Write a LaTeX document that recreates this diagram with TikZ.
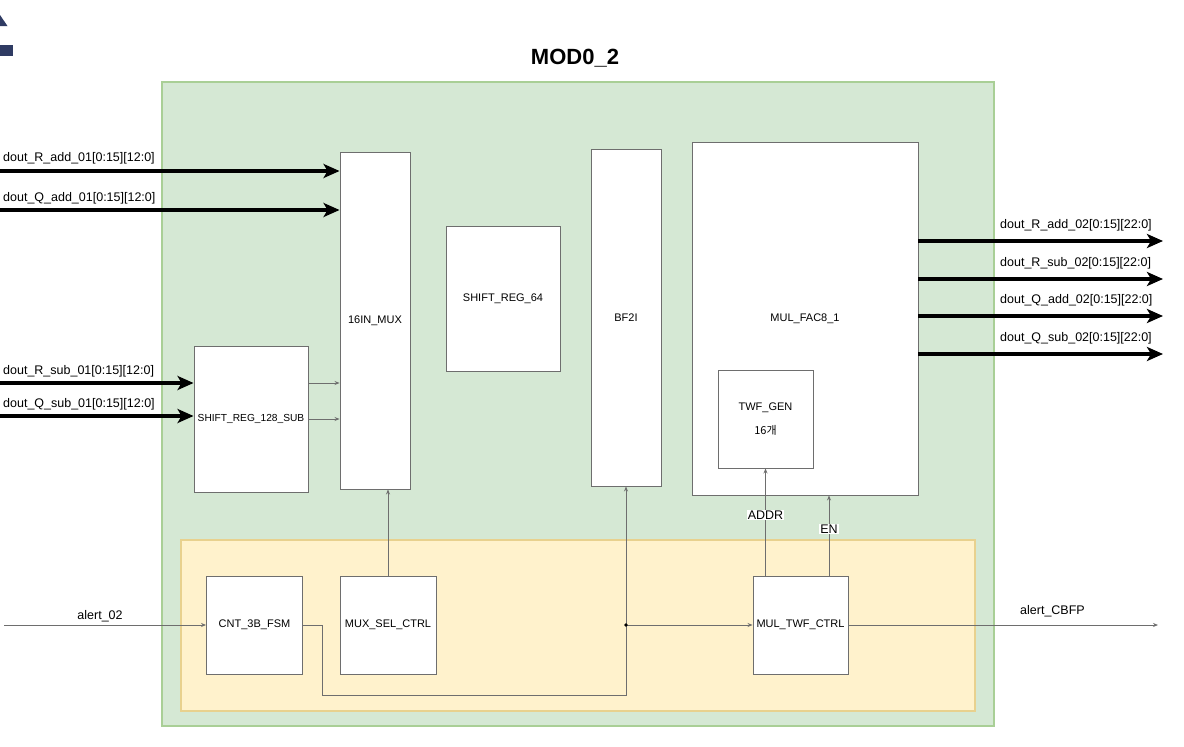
\documentclass[tikz,border=0pt]{standalone}
\usepackage{fontspec}
\setmainfont{Liberation Sans}
\newfontfamily\cjk{Noto Sans CJK KR}
\usetikzlibrary{arrows.meta}
\usetikzlibrary{calc,positioning}
\definecolor{verde}{HTML}{D5E8D4}
\definecolor{verdeborda}{HTML}{A9CF96}
\definecolor{amarelo}{HTML}{FFF2CC}
\definecolor{amareloborda}{HTML}{E8D18E}
\definecolor{cinza}{HTML}{6E6E6E}
\definecolor{marinho}{HTML}{2F3B63}

\begin{document}
\begin{tikzpicture}[>=Stealth, x=1pt, y=-1pt,
    bloco/.style={draw=cinza, fill=white, line width=0.9pt, inner sep=0pt, font=\fontsize{11}{13}\selectfont},
    barra/.style={line width=4pt, -{Stealth[length=16pt,width=14pt,inset=4pt]}},
    fio/.style={draw=cinza, line width=0.8pt, -{Stealth[length=5pt,width=4pt]}},
    rotulo/.style={font=\fontsize{12.5}{14}\selectfont, inner sep=0pt}]
    \useasboundingbox (0,0) rectangle (1184,747);

    % pedaco do icone no canto
    \fill[marinho] (0,15) -- (7.5,26) -- (0,26) -- cycle;
    \fill[marinho] (0,45) rectangle (12.5,56);

    % caixas de fundo
    \draw[verdeborda, fill=verde, line width=1.2pt] (162,82) rectangle (994,726);
    \draw[amareloborda, fill=amarelo, line width=1.2pt] (181,540) rectangle (975,711);
    \node[font=\bfseries\fontsize{22}{25}\selectfont] (titulo) at (575,58) {MOD0\_2};

    % blocos
    \node[bloco, minimum width=70pt, minimum height=337pt] (mux) at (375,320.5) {16IN\_MUX};
    \node[bloco, minimum width=114pt, minimum height=145pt] (sr64) at (503,298.5) {SHIFT\_REG\_64};
    \node[bloco, minimum width=70pt, minimum height=337pt] (bf) at (626,317.5) {BF2I};
    \node[bloco, minimum width=226pt, minimum height=353pt] (fac) at (805,318.5) {MUL\_FAC8\_1};
    \node[bloco, minimum width=95pt, minimum height=98pt, align=center] (twf) at (765.5,419) {TWF\_GEN\\[11pt]{\cjk 16개}};
    \node[bloco, minimum width=114pt, minimum height=146pt, font=\fontsize{10.2}{12}\selectfont] (sr128) at (251,419) {SHIFT\_REG\_128\_SUB};
    \node[bloco, minimum width=96pt, minimum height=98pt] (cnt) at (254.5,625) {CNT\_3B\_FSM};
    \node[bloco, minimum width=96pt, minimum height=98pt] (msel) at (388,625) {MUX\_SEL\_CTRL};
    \node[bloco, minimum width=95pt, minimum height=98pt] (mtc) at (800.5,625) {MUL\_TWF\_CTRL};

    % entradas
    \coordinate (in1) at (0,171);
    \coordinate (in2) at (0,210);
    \coordinate (in3) at (0,383);
    \coordinate (in4) at (0,416);
    \draw[barra] (in1) -- (in1 -| mux.west);
    \draw[barra] (in2) -- (in2 -| mux.west);
    \draw[barra] (in3) -- (in3 -| sr128.west);
    \draw[barra] (in4) -- (in4 -| sr128.west);
    \node[rotulo, anchor=west] (lin1) at (3,158) {dout\_R\_add\_01[0:15][12:0]};
    \node[rotulo, anchor=west] (lin2) at (3,198) {dout\_Q\_add\_01[0:15][12:0]};
    \node[rotulo, anchor=west] (lin3) at (3,371) {dout\_R\_sub\_01[0:15][12:0]};
    \node[rotulo, anchor=west] (lin4) at (3,404) {dout\_Q\_sub\_01[0:15][12:0]};

    % saidas
    \coordinate (out1) at (1163,241);
    \coordinate (out2) at (1163,279);
    \coordinate (out3) at (1163,316);
    \coordinate (out4) at (1163,354);
    \draw[barra] (out1 -| fac.east) -- (out1);
    \draw[barra] (out2 -| fac.east) -- (out2);
    \draw[barra] (out3 -| fac.east) -- (out3);
    \draw[barra] (out4 -| fac.east) -- (out4);
    \node[rotulo, anchor=west] (lout1) at (1000,225) {dout\_R\_add\_02[0:15][22:0]};
    \node[rotulo, anchor=west] (lout2) at (1000,263) {dout\_R\_sub\_02[0:15][22:0]};
    \node[rotulo, anchor=west] (lout3) at (1000,300) {dout\_Q\_add\_02[0:15][22:0]};
    \node[rotulo, anchor=west] (lout4) at (1000,338) {dout\_Q\_sub\_02[0:15][22:0]};

    % ligacoes internas
    \draw[fio] ([yshift=36pt]sr128.east) -- ([yshift=36pt]sr128.east -| mux.west);
    \draw[fio] (sr128.east) -- (sr128.east -| mux.west);
    \draw[fio] (msel.north) -- (msel.north |- mux.south);
    \draw[fio] (twf.south |- mtc.north) -- node[rotulo, fill=white, inner sep=1pt, pos=0.565]{ADDR} (twf.south);
    \draw[fio] ([xshift=28.5pt]mtc.north) -- node[rotulo, fill=white, inner sep=1pt, pos=0.58]{EN} ([xshift=28.5pt]mtc.north |- fac.south);

    % alertas
    \coordinate (alin) at (4,625);
    \coordinate (alout) at (1158,625);
    \coordinate (jn) at (bf.south |- mtc.west);
    \draw[fio] (alin) -- node[rotulo, above=3pt, xshift=-5pt]{alert\_02} (cnt.west);
    \draw[fio] (cnt.east) -- ++(19,0) |- ($(bf.south)+(0,209)$) -- (bf.south);
    \draw[fio] (jn) -- (mtc.west);
    \fill (jn) circle (1.8pt);
    \draw[fio] (mtc.east) -- (alout);
    \node[rotulo, anchor=west] (lalert) at (1020,611) {alert\_CBFP};

\end{tikzpicture}
\end{document}
